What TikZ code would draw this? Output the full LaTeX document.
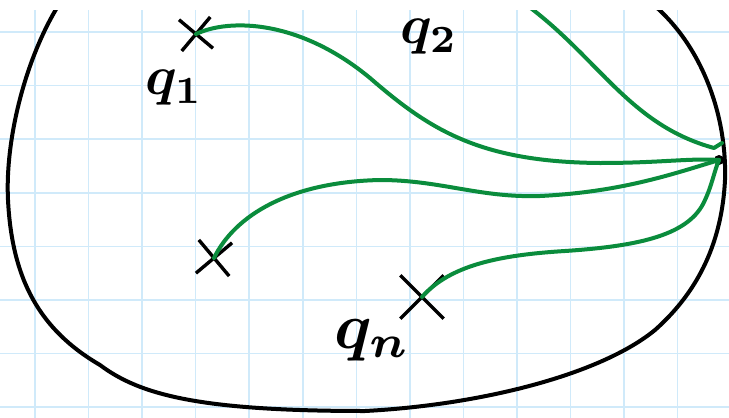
\documentclass[tikz,border=0pt]{standalone}
\usetikzlibrary{shapes.misc}
\definecolor{gridblue}{RGB}{208,234,250}
\definecolor{pathgreen}{RGB}{10,140,60}
\tikzset{
  gridline/.style={draw=gridblue,line width=1.6pt},
  outline/.style={draw=black,line width=4pt,line cap=round},
  greenpath/.style={draw=pathgreen,line width=4pt,line cap=round,line join=round},
  xmark/.style={cross out,draw=black,line width=3.4pt,minimum size=#1,inner sep=0pt},
  qlabel/.style={inner sep=0pt,font=\boldmath,scale=#1}
}
\begin{document}
\begin{tikzpicture}[x=1pt,y=-1pt]
\useasboundingbox (0,0) rectangle (729,418);
\fill[white] (0,0) rectangle (729,418);
\begin{scope}
\clip (0,10) rectangle (729,418);
% grid
\foreach \k in {0,...,12} {\draw[gridline] ({35+53.55*\k},10) -- ({35+53.55*\k},418);}
\foreach \k in {0,...,7} {\draw[gridline] (0,{32+53.6*\k}) -- (729,{32+53.6*\k});}
% outline
\draw[outline] (58,6) .. controls (25,60) and (5,140) .. (8,200)
  .. controls (12,280) and (40,330) .. (100,365)
  .. controls (140,395) and (200,411) .. (365,411)
  .. controls (480,405) and (600,375) .. (655,330)
  .. controls (700,290) and (722,240) .. (725,180)
  .. controls (727,120) and (705,50) .. (655,6);
% marks
\node[xmark=28pt,rotate=5] (x1) at (196,34) {};
\node[xmark=30pt,rotate=-5] (x2) at (214,258) {};
\node[xmark=40pt] (x3) at (422,297) {};
\coordinate (p) at (719,160);
\coordinate (top) at (528,6);
\coordinate (hook) at (722,143);
\fill (p) circle (5pt);
% green paths
\draw[greenpath] (x1.center) .. controls (230,18) and (300,20) .. (370,78)
  .. controls (430,130) and (480,162) .. (600,163)
  .. controls (660,163) and (690,158) .. (p);
\draw[greenpath] (top) .. controls (600,60) and (630,125) .. (714,148) -- (hook);
\draw[greenpath] (x2.center) .. controls (235,215) and (290,182) .. (380,180)
  .. controls (440,180) and (480,198) .. (540,196)
  .. controls (620,192) and (670,175) .. (p);
\draw[greenpath] (x3.center) .. controls (450,265) and (500,255) .. (565,251)
  .. controls (640,246) and (690,235) .. (705,200)
  .. controls (712,185) and (714,172) .. (p);
\end{scope}
% labels
\node[qlabel=5.5] (q1) at (174,88) {$q_1$};
\node[qlabel=5.5] (q2) at (429,37) {$q_2$};
\node[qlabel=6.5] (qn) at (372,340) {$q_n$};
\end{tikzpicture}
\end{document}
